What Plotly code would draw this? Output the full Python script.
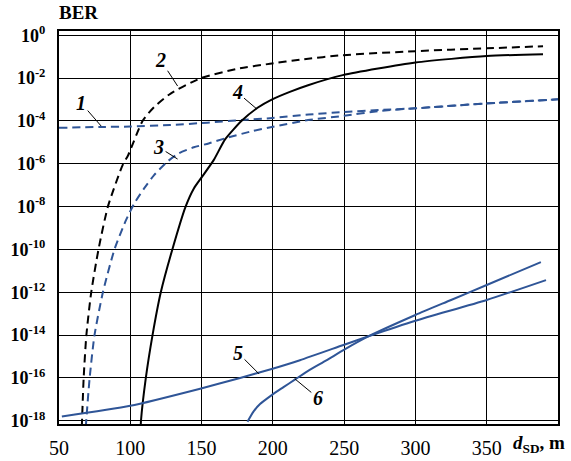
import plotly.graph_objects as go

# log10(BER) values
x1 = [50, 80, 100, 128, 154, 178, 200, 225, 250, 275, 300, 350, 400]
y1 = [-4.32, -4.28, -4.26, -4.19, -4.08, -3.96, -3.86, -3.7, -3.58, -3.49, -3.41, -3.18, -2.99]

x2 = [66, 67.3, 69.2, 72.6, 77.7, 84.3, 94.7, 98.5, 108.6, 116.7, 128.3, 149.2, 174.8, 198, 220, 249, 300, 350, 389.5]
y2 = [-18.3, -16, -14, -12, -10, -8, -6.05, -5.6, -4, -3.35, -2.72, -2.01, -1.57, -1.33, -1.13, -0.93, -0.74, -0.61, -0.51]

x3 = [68.8, 69.2, 71.5, 74.9, 80.8, 88.9, 97, 102.8, 109.7, 116.7, 126, 134.1, 144.6, 155, 166.6, 184, 200.3, 224.7, 250, 275, 300, 350, 400]
y3 = [-18.3, -17.9, -16, -14, -12, -10, -8.63, -7.85, -7.15, -6.53, -5.9, -5.51, -5.23, -5.05, -4.81, -4.5, -4.27, -3.96, -3.76, -3.53, -3.41, -3.18, -2.99]

x4 = [107.2, 107.5, 110.9, 115.6, 121.4, 129.5, 138.8, 144.6, 150.4, 158.5, 166.6, 178.3, 189.8, 199.2, 211.9, 224.7, 249, 300, 350, 389.5]
y4 = [-18.5, -18, -16, -14, -12, -10, -8, -7.15, -6.6, -5.83, -4.85, -3.98, -3.36, -3.0, -2.64, -2.33, -1.86, -1.27, -0.97, -0.88]

x5 = [52, 100, 149, 177, 199.2, 219, 249.5, 267.6, 300, 350, 391.6]
y5 = [-17.8, -17.3, -16.5, -16.0, -15.58, -15.17, -14.46, -14.04, -13.33, -12.36, -11.43]

x6 = [182.2, 186.4, 191, 199.2, 207.2, 215.4, 225.8, 237.5, 249.5, 267.6, 300, 325, 350, 388]
y6 = [-18.04, -17.57, -17.22, -16.8, -16.44, -16.08, -15.62, -15.18, -14.7, -14.04, -13.06, -12.36, -11.66, -10.59]

x_ticks = [50, 100, 150, 200, 250, 300, 350]
y_tick_exp = [0, -2, -4, -6, -8, -10, -12, -14, -16, -18]

BLUE = "#2f5597"
FONT = "Liberation Serif, Times New Roman, DejaVu Serif, serif"

series = [
    (x1, y1, BLUE, "8px,5px"),
    (x2, y2, "black", "8px,5px"),
    (x3, y3, BLUE, "8px,5px"),
    (x4, y4, "black", "solid"),
    (x5, y5, BLUE, "solid"),
    (x6, y6, BLUE, "solid"),
]

fig = go.Figure()
for xs, ys, col, dash in series:
    fig.add_trace(go.Scatter(
        x=xs, y=[10 ** v for v in ys], mode="lines",
        line=dict(color=col, width=2, dash=dash, shape="spline", smoothing=0.6),
        showlegend=False, hoverinfo="skip"))

# curve labels: (text, tip x, tip log10 y, ax, ay)
labels = [
    ("1", 79.6, -4.24, -20, -23),
    ("2", 133.2, -2.37, -17, -26),
    ("3", 133.2, -5.78, -19, -12),
    ("4", 188.9, -3.45, -20, -17),
    ("5", 190.3, -15.81, -21, -21),
    ("6", 215.4, -16.04, 23, 19),
]
for t, xx, yy, ax, ay in labels:
    fig.add_annotation(x=xx, y=yy, text=f"<b><i>{t}</i></b>", showarrow=True,
                       arrowhead=0, arrowwidth=1, arrowcolor="black", ax=ax, ay=ay,
                       font=dict(family=FONT, size=20, color="black"))

fig.add_annotation(xref="paper", yref="paper", x=-0.004, y=1.047, xanchor="left",
                   yanchor="middle", text="<b>BER</b>", showarrow=False,
                   font=dict(family=FONT, size=19, color="black"))
fig.add_annotation(xref="paper", yref="paper", x=0.905, y=-0.05, xanchor="left",
                   yanchor="middle", text="<b><i>d</i><sub>SD</sub>, m</b>", showarrow=False,
                   font=dict(family=FONT, size=19, color="black"))

fig.update_xaxes(range=[50, 400], tickvals=x_ticks, ticktext=[str(v) for v in x_ticks],
                 showgrid=True, gridcolor="black", gridwidth=1,
                 showline=True, linecolor="black", linewidth=2, mirror=True,
                 zeroline=False, ticks="", ticklabelstandoff=5, automargin=False,
                 tickfont=dict(family=FONT, size=20, color="black"))
fig.update_yaxes(type="log", range=[-18.15, 0.2],
                 tickvals=[10 ** e for e in y_tick_exp],
                 ticktext=[f"<b>10<sup>{e}</sup></b>" for e in y_tick_exp],
                 showgrid=True, gridcolor="black", gridwidth=1,
                 showline=True, linecolor="black", linewidth=2, mirror=True,
                 zeroline=False, ticks="", ticklabelstandoff=8, automargin=False,
                 tickfont=dict(family=FONT, size=18, color="black"))

fig.update_layout(width=571, height=461, margin=dict(l=59, r=13, t=31, b=37),
                  plot_bgcolor="white", paper_bgcolor="white")

fig.write_html("out.html", config={"displayModeBar": False},
               post_script="document.body.style.margin='0';")
